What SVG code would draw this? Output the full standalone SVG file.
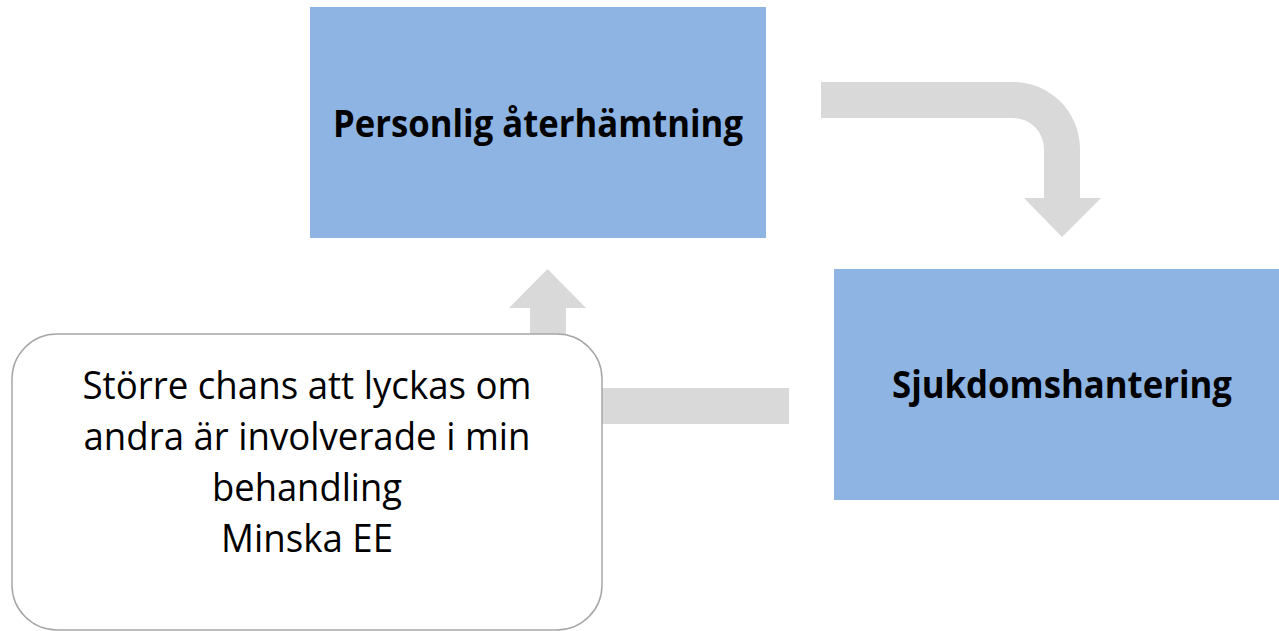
<svg xmlns="http://www.w3.org/2000/svg" width="1279" height="631" viewBox="0 0 1279 631">
  <style>
    .box { fill: #8eb4e3; }
    .title { font-family: "Open Sans", "Noto Sans", "Liberation Sans", sans-serif; font-weight: bold; font-size: 37px; fill: #000; text-anchor: middle; }
    .arrow { fill: #d9d9d9; }
    .note { fill: #ffffff; stroke: #a6a6a6; stroke-width: 1.5; }
    .noteText { font-family: "Open Sans", "Noto Sans", "Liberation Sans", sans-serif; font-size: 38px; fill: #000; text-anchor: middle; }
  </style>
  <rect width="1279" height="631" fill="#ffffff"/>

  <!-- bent block arrows between the stages -->
  <g id="connectors">
    <path class="arrow" d="M821,82 H1013 A67,67 0 0 1 1080,149 V198 H1101 L1062,237 L1024,198 H1044 V149 A31,31 0 0 0 1013,118 H821 Z"/>
    <path class="arrow" d="M789,388 H597 A31,31 0 0 1 566,357 V308 H586 L547.5,269 L509,308 H530 V357 A67,67 0 0 0 597,424 H789 Z"/>
  </g>

  <g id="node-personlig">
    <rect class="box" x="310" y="7" width="456" height="231"/>
    <text class="title" x="538" y="137" textLength="410" lengthAdjust="spacingAndGlyphs">Personlig återhämtning</text>
  </g>

  <g id="node-sjukdom">
    <rect class="box" x="834" y="269" width="445" height="231"/>
    <text class="title" x="1062" y="398" textLength="340" lengthAdjust="spacingAndGlyphs">Sjukdomshantering</text>
  </g>

  <g id="node-note">
    <rect class="note" x="12" y="334" width="590" height="296" rx="45" ry="45"/>
    <text class="noteText" x="307" y="399" textLength="449" lengthAdjust="spacingAndGlyphs">Större chans att lyckas om</text>
    <text class="noteText" x="307" y="450" textLength="447" lengthAdjust="spacingAndGlyphs">andra är involverade i min</text>
    <text class="noteText" x="307" y="501" textLength="190" lengthAdjust="spacingAndGlyphs">behandling</text>
    <text class="noteText" x="307" y="552" textLength="172" lengthAdjust="spacingAndGlyphs">Minska EE</text>
  </g>
</svg>
